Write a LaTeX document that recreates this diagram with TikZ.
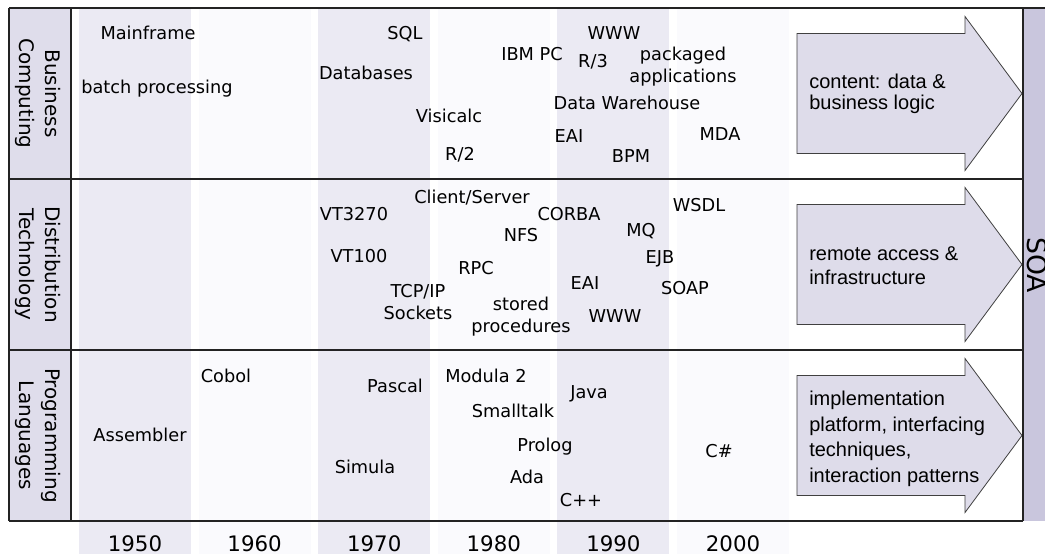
\documentclass[tikz,border=0pt]{standalone}
\usepackage{fontspec}
\setmainfont{DejaVu Sans}
\newfontfamily\calloutfont{Liberation Sans}
\usetikzlibrary{calc,positioning}

\definecolor{banddark}{RGB}{235,234,243}
\definecolor{bandpale}{RGB}{250,250,253}
\definecolor{headfill}{RGB}{223,221,235}
\definecolor{arrowfill}{RGB}{222,220,234}
\definecolor{soafill}{RGB}{201,198,221}
\definecolor{gridline}{RGB}{35,35,35}

\tikzset{
  era/.style={font=\fontsize{13.3}{16.5}\selectfont, anchor=base, align=center, inner sep=0pt},
  rowhead/.style={font=\fontsize{15}{19.5}\selectfont, rotate=-90, align=center, inner sep=0pt},
  callout/.style={font=\calloutfont\fontsize{15}{#1}\selectfont, anchor=base west, align=left, inner sep=0pt},
  callout/.default=18,
  yearlabel/.style={font=\fontsize{16}{19}\selectfont, anchor=base, inner sep=0pt},
  gridrule/.style={draw=gridline, line width=1pt},
  bigarrow/.style={draw=black!75, line width=0.6pt, fill=arrowfill}
}

\begin{document}
\begin{tikzpicture}[x=0.75pt, y=-0.75pt]
  % frame dimensions (pixels, y grows downwards)
  \def\fl{9}
  \def\fr{1023}
  \def\ft{8}
  \def\fb{521}
  \def\hw{71}
  \def\bx{79}
  \def\bw{112}
  \def\bstep{119.6}
  \useasboundingbox (0,0) rectangle (1045,554);
  \fill[white] (0,0) rectangle (1045,554);

  % decade bands, alternating shades
  \foreach \i in {0,...,5} {
    \pgfmathsetmacro{\xx}{\bx+\i*\bstep}
    \ifodd\i \def\bc{bandpale}\else \def\bc{banddark}\fi
    \fill[\bc] (\xx,\ft) rectangle ({\xx+\bw},554);
  }

  % row heads and SOA column
  \fill[headfill] (\fl,\ft) rectangle (\hw,\fb);
  \fill[soafill] (\fr,\ft) rectangle (1045,\fb);

  % block arrows into SOA
  \foreach \cy in {93.5,264.5,435.5} {
    \draw[bigarrow] (797,{\cy-60}) -- (965,{\cy-60}) -- (965,{\cy-77}) -- (1022,\cy)
      -- (965,{\cy+77}) -- (965,{\cy+60}) -- (797,{\cy+60}) -- cycle;
  }

  % grid
  \draw[gridrule] (\fl,\ft) -- (1045,\ft);
  \foreach \yy in {179,350,\fb}
    \draw[gridrule] (\fl,\yy) -- (\fr,\yy);
  \foreach \xx in {\fl,\hw,\fr}
    \draw[gridrule] (\xx,\ft) -- (\xx,\fb);

  \node[rowhead] (business) at (38,93.5) {Business\\Computing};
  \node[rowhead] (distribution) at (38,264.5) {Distribution\\Technology};
  \node[rowhead] (languages) at (38,435.5) {Programming\\Languages};
  \node[font=\fontsize{20}{24}\selectfont, rotate=-90, anchor=base, inner sep=0pt] (soa) at (1027,265) {SOA};

  % Business Computing (y = baseline of last line)
  \foreach \nm/\xx/\yy/\txt in {mainframe/148/39/Mainframe, batch/157/93/batch processing,
      sql/405/39/SQL, databases/366/79/Databases, ibmpc/532/60/IBM PC, www/614/39/WWW,
      rthree/593/67/{R/3}, packaged/683/82/{packaged\\applications},
      warehouse/627/109/Data Warehouse, visicalc/449/122/Visicalc, eai/569/142/EAI,
      mda/720/140/MDA, rtwo/460/160/{R/2}, bpm/631/162/BPM}
    \node[era] (\nm) at (\xx,\yy) {\txt};

  % Distribution Technology
  \foreach \nm/\xx/\yy/\txt in {vtthree/354/220/VT3270, vtone/359/262/VT100,
      tcpip/418/319/{TCP/IP\\Sockets}, clientserver/472/203/{Client/Server},
      corba/569/220/CORBA, nfs/521/241/NFS, rpc/476/274/RPC,
      stored/521/332/{stored\\procedures}, eaitwo/585/289/EAI, wwwtwo/615/322/WWW,
      mq/641/236/MQ, ejb/660/263/EJB, soap/685/294/SOAP, wsdl/699/211/WSDL}
    \node[era] (\nm) at (\xx,\yy) {\txt};

  % Programming Languages
  \foreach \nm/\xx/\yy/\txt in {cobol/226/382/Cobol, assembler/140/441/Assembler,
      pascal/395/392/Pascal, simula/365/473/Simula, modula/486/382/Modula 2,
      java/589/398/Java, smalltalk/513/417/Smalltalk, prolog/545/451/Prolog,
      ada/527/483/Ada, cpp/581/506/C++, csharp/719/457/C\#}
    \node[era] (\nm) at (\xx,\yy) {\txt};

  % arrow texts
  \node[callout=15.5] (content) at (809,109.5) {content: data \&\\business logic};
  \node[callout=18] (remote) at (809,284) {remote access \&\\infrastructure};
  \node[callout=19.1] (platform) at (809,482.3) {implementation\\platform, interfacing\\techniques,\\interaction patterns};

  % decades
  \foreach \i/\yr in {0/1950,1/1960,2/1970,3/1980,4/1990,5/2000}
    \node[yearlabel] (y\yr) at ({\bx+\i*\bstep+0.5*\bw},551) {\yr};
\end{tikzpicture}
\end{document}
